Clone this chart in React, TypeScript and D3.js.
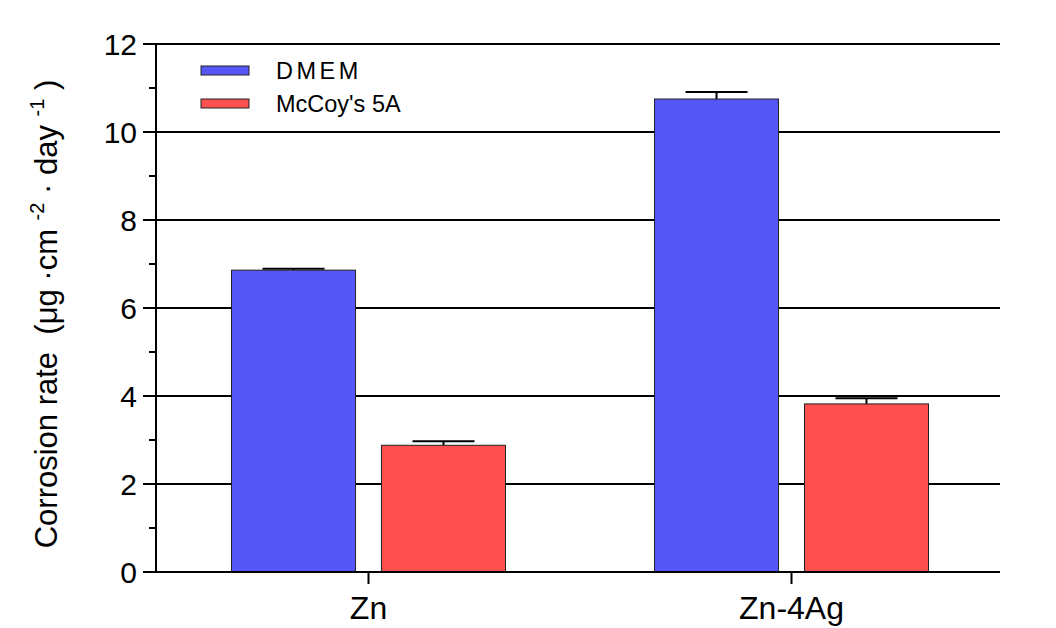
import React from "react";
import * as d3 from "d3";

const categories = ["Zn", "Zn-4Ag"];
const seriesNames = ["DMEM", "McCoy's 5A"];
const dmemValues = [6.86, 10.75];
const dmemErrors = [0.03, 0.16];
const mccoyValues = [2.88, 3.82];
const mccoyErrors = [0.09, 0.13];
const yTicks = [0, 2, 4, 6, 8, 10, 12];
const yMinorTicks = [1, 3, 5, 7, 9, 11];

const WIDTH = 1056;
const HEIGHT = 628;
const FONT = "'Liberation Sans', Arial, sans-serif";
const COLORS = ["#5656f7", "#ff5050"];

const MARGIN = { top: 44, right: 56, bottom: 56, left: 156 };

const App = () => {
  const boundsWidth = WIDTH - MARGIN.left - MARGIN.right;
  const boundsHeight = HEIGHT - MARGIN.top - MARGIN.bottom;

  const yScale = d3.scaleLinear().domain([0, 12]).range([boundsHeight, 0]);
  // categories sit a touch right of the even split
  const xScale = d3.scaleBand().domain(categories).range([1, boundsWidth + 3]);
  const subScale = d3
    .scaleBand()
    .domain(seriesNames)
    .range([-137, 137])
    .paddingInner(0.173);

  const series = [
    { name: seriesNames[0], values: dmemValues, errors: dmemErrors },
    { name: seriesNames[1], values: mccoyValues, errors: mccoyErrors },
  ];

  const bw = subScale.bandwidth();

  return (
    <svg
      width={WIDTH}
      height={HEIGHT}
      style={{ position: "absolute", left: 0, top: 0, background: "white" }}
      fontFamily={FONT}
    >
      <g transform={`translate(${MARGIN.left},${MARGIN.top})`}>
        {/* gridlines */}
        {yTicks.map((t) => (
          <line
            key={"g" + t}
            x1={0}
            x2={boundsWidth}
            y1={yScale(t)}
            y2={yScale(t)}
            stroke="black"
            strokeWidth={2}
          />
        ))}

        {/* bars */}
        {series.map((s, si) =>
          categories.map((c, ci) => {
            const cx = (xScale(c) ?? 0) + xScale.bandwidth() / 2;
            const x = cx + (subScale(s.name) ?? 0);
            const v = s.values[ci];
            const e = s.errors[ci];
            const mid = x + bw / 2;
            return (
              <g key={s.name + c}>
                <line
                  x1={mid}
                  x2={mid}
                  y1={yScale(v)}
                  y2={yScale(v + e)}
                  stroke="black"
                  strokeWidth={2}
                />
                <line
                  x1={mid - bw / 4}
                  x2={mid + bw / 4}
                  y1={yScale(v + e)}
                  y2={yScale(v + e)}
                  stroke="black"
                  strokeWidth={2}
                />
                <rect
                  x={x}
                  y={yScale(v)}
                  width={bw}
                  height={boundsHeight - yScale(v)}
                  fill={COLORS[si]}
                  stroke="#222"
                  strokeWidth={1}
                />
              </g>
            );
          })
        )}

        {/* y axis */}
        <line x1={0} x2={0} y1={0} y2={boundsHeight} stroke="black" strokeWidth={2} />
        {yTicks.map((t) => (
          <g key={"y" + t} transform={`translate(0,${yScale(t)})`}>
            <line x1={-13} x2={0} stroke="black" strokeWidth={2} />
            <text
              x={-19}
              dy="0.35em"
              textAnchor="end"
              fontSize={30}
              fill="black"
            >
              {t}
            </text>
          </g>
        ))}
        {yMinorTicks.map((t) => (
          <line
            key={"m" + t}
            x1={-7}
            x2={0}
            y1={yScale(t)}
            y2={yScale(t)}
            stroke="black"
            strokeWidth={2}
          />
        ))}

        {/* x axis */}
        <line
          x1={-12}
          x2={boundsWidth}
          y1={boundsHeight}
          y2={boundsHeight}
          stroke="black"
          strokeWidth={2}
        />
        {categories.map((c) => {
          const cx = (xScale(c) ?? 0) + xScale.bandwidth() / 2;
          return (
            <g key={"x" + c} transform={`translate(${cx},${boundsHeight})`}>
              <line y1={0} y2={12} stroke="black" strokeWidth={2} />
              <text y={47} textAnchor="middle" fontSize={32} fill="black">
                {c}
              </text>
            </g>
          );
        })}
      </g>

      {/* y label */}
      <text
        transform="translate(57,314) rotate(-90)"
        textAnchor="middle"
        fontSize={31}
        fill="black"
        style={{ whiteSpace: "pre" }}
      >
        {"Corrosion rate  (μg ·cm "}
        <tspan fontSize={20} dy={-13}>
          -2
        </tspan>
        <tspan dy={13}>{" · day "}</tspan>
        <tspan fontSize={20} dy={-13}>
          -1
        </tspan>
        <tspan dy={13}>{" )"}</tspan>
      </text>

      {/* legend */}
      {series.map((s, i) => (
        <g key={"l" + s.name} transform={`translate(201,${66 + i * 33})`}>
          <rect width={48} height={9} fill={COLORS[i]} stroke="#222" strokeWidth={1} />
          <text
            x={75}
            y={12.5}
            fontSize={23.5}
            fill="black"
            letterSpacing={i === 0 ? 3.5 : 0}
          >
            {s.name}
          </text>
        </g>
      ))}
    </svg>
  );
};

export default App;
